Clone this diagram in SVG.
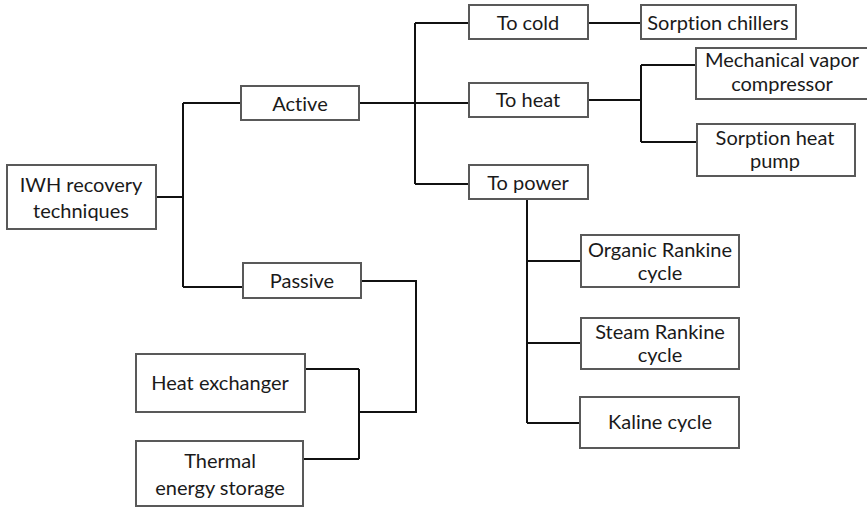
<svg xmlns="http://www.w3.org/2000/svg" width="867" height="508" viewBox="0 0 867 508">
  <style>
    .box { fill: #ffffff; stroke: #595959; stroke-width: 2; }
    .lbl { font-family: Lato, "Open Sans", "Liberation Sans", sans-serif; font-size: 20px; fill: #1a1a1a; text-anchor: middle; font-variant-ligatures: none; }
    .wire { fill: none; stroke: #111111; stroke-width: 2; }
  </style>
  <rect width="867" height="508" fill="#ffffff"/>

  <!-- connectors -->
  <g id="connectors">
    <path class="wire" d="M156 197 H183 M183 103 V287 M183 103 H241 M183 287 H243"/>
    <path class="wire" d="M359 103 H469 M415 23 V184 M415 23 H469 M415 184 H469"/>
    <path class="wire" d="M588 23 H641"/>
    <path class="wire" d="M588 100 H641 M641 65 V142 M641 65 H696 M641 142 H697"/>
    <path class="wire" d="M527 199 V423 M527 261 H581 M527 343 H581 M527 423 H580"/>
    <path class="wire" d="M361 281 H416 V412 H359 M359 369 V459 M305 369 H359 M303 459 H359"/>
  </g>

  <!-- nodes -->
  <g id="iwh">
    <rect class="box" x="7" y="165" width="149" height="64"/>
    <text class="lbl" x="81" y="192">IWH recovery</text>
    <text class="lbl" x="81" y="218">techniques</text>
  </g>
  <g id="active">
    <rect class="box" x="241" y="86" width="118" height="34"/>
    <text class="lbl" x="300" y="111">Active</text>
  </g>
  <g id="passive">
    <rect class="box" x="243" y="263" width="118" height="35"/>
    <text class="lbl" x="302" y="288">Passive</text>
  </g>
  <g id="to-cold">
    <rect class="box" x="469" y="5" width="119" height="34"/>
    <text class="lbl" x="528" y="30">To cold</text>
  </g>
  <g id="to-heat">
    <rect class="box" x="469" y="83" width="119" height="34"/>
    <text class="lbl" x="528" y="107">To heat</text>
  </g>
  <g id="to-power">
    <rect class="box" x="469" y="165" width="119" height="34"/>
    <text class="lbl" x="528" y="190">To power</text>
  </g>
  <g id="sorption-chillers">
    <rect class="box" x="641" y="5" width="155" height="34"/>
    <text class="lbl" x="718" y="30">Sorption chillers</text>
  </g>
  <g id="mech-vapor">
    <rect class="box" x="696" y="48" width="172" height="51"/>
    <text class="lbl" x="782" y="67">Mechanical vapor</text>
    <text class="lbl" x="782" y="91">compressor</text>
  </g>
  <g id="sorption-heat-pump">
    <rect class="box" x="697" y="124" width="158" height="52"/>
    <text class="lbl" x="775" y="145">Sorption heat</text>
    <text class="lbl" x="775" y="168">pump</text>
  </g>
  <g id="orc">
    <rect class="box" x="581" y="235" width="158" height="52"/>
    <text class="lbl" x="660" y="257">Organic Rankine</text>
    <text class="lbl" x="660" y="280">cycle</text>
  </g>
  <g id="src">
    <rect class="box" x="581" y="318" width="158" height="51"/>
    <text class="lbl" x="660" y="339">Steam Rankine</text>
    <text class="lbl" x="660" y="362">cycle</text>
  </g>
  <g id="kaline">
    <rect class="box" x="580" y="397" width="159" height="51"/>
    <text class="lbl" x="660" y="429">Kaline cycle</text>
  </g>
  <g id="heat-exchanger">
    <rect class="box" x="136" y="354" width="169" height="58"/>
    <text class="lbl" x="220" y="390">Heat exchanger</text>
  </g>
  <g id="tes">
    <rect class="box" x="136" y="441" width="167" height="65"/>
    <text class="lbl" x="220" y="468">Thermal</text>
    <text class="lbl" x="220" y="495">energy storage</text>
  </g>
</svg>
